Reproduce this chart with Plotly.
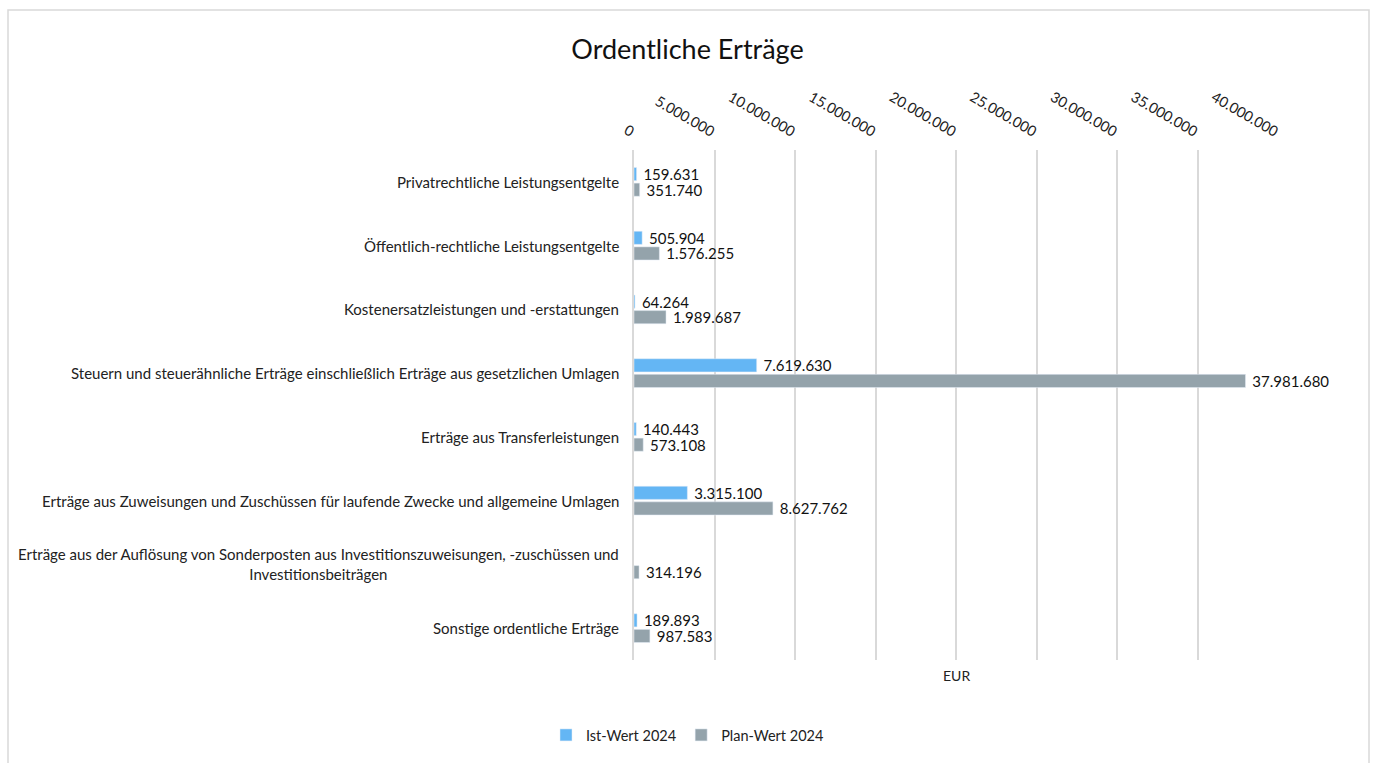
import plotly.graph_objects as go

categories = [
    "Privatrechtliche Leistungsentgelte",
    "Öffentlich-rechtliche Leistungsentgelte",
    "Kostenersatzleistungen und -erstattungen",
    "Steuern und steuerähnliche Erträge einschließlich Erträge aus gesetzlichen Umlagen",
    "Erträge aus Transferleistungen",
    "Erträge aus Zuweisungen und Zuschüssen für laufende Zwecke und allgemeine Umlagen",
    "Erträge aus der Auflösung von Sonderposten aus Investitionszuweisungen, -zuschüssen und<br>Investitionsbeiträgen",
    "Sonstige ordentliche Erträge",
]
ist_2024 = [159631, 505904, 64264, 7619630, 140443, 3315100, None, 189893]
plan_2024 = [351740, 1576255, 1989687, 37981680, 573108, 8627762, 314196, 987583]
tick_vals = [0, 5000000, 10000000, 15000000, 20000000, 25000000, 30000000, 35000000, 40000000]
tick_text = ["0", "5.000.000", "10.000.000", "15.000.000", "20.000.000",
             "25.000.000", "30.000.000", "35.000.000", "40.000.000"]


def fmt(v):
    if v is None:
        return ""
    return " " + f"{v:,}".replace(",", ".")


FONT = "Lato"
W, H = 1375, 763
L, R, T, B = 634, 97, 150, 103
pw, ph = W - L - R, H - T - B

fig = go.Figure()
fig.add_trace(go.Bar(
    name="Ist-Wert 2024", y=categories, x=ist_2024, orientation="h",
    marker=dict(color="#64B6F4"),
    text=[fmt(v) for v in ist_2024], textposition="outside", constraintext="none",
    textfont=dict(family=FONT, size=15, color="#111111"), cliponaxis=False,
))
fig.add_trace(go.Bar(
    name="Plan-Wert 2024", y=categories, x=plan_2024, orientation="h",
    marker=dict(color="#94A3AB"),
    text=[fmt(v) for v in plan_2024], textposition="outside", constraintext="none",
    textfont=dict(family=FONT, size=15, color="#111111"), cliponaxis=False,
))

annotations = []
for c in categories:
    annotations.append(dict(
        x=0, xref="paper", y=c, yref="y", text=c, showarrow=False,
        xanchor="right", yanchor="middle", align="center", xshift=-13,
        font=dict(family=FONT, size=15, color="#222222"),
    ))
annotations.append(dict(
    x=0.5, xref="paper", y=-15 / ph, yref="paper", text="EUR", showarrow=False,
    xanchor="center", yanchor="middle", font=dict(family=FONT, size=14, color="#222222"),
))

fig.update_layout(
    width=W, height=H,
    margin=dict(l=L, r=R, t=T, b=B),
    paper_bgcolor="white", plot_bgcolor="white",
    barmode="group", bargap=0.51, bargroupgap=0.16,
    title=dict(text="Ordentliche Erträge", x=0.5, xref="container", xanchor="center",
               y=1 - 50 / H, yref="container", yanchor="middle",
               font=dict(family=FONT, size=27, color="#111111")),
    xaxis=dict(side="top", range=[0, 40000000], tickvals=tick_vals, ticktext=tick_text,
               tickangle=30, showgrid=True, gridcolor="#D9D9D9", gridwidth=2,
               zeroline=False, showline=False, ticks="", ticklabelstandoff=8,
               tickfont=dict(family=FONT, size=14.5, color="#222222")),
    yaxis=dict(autorange="reversed", showticklabels=False, showgrid=False,
               showline=True, linecolor="#D9D9D9", linewidth=2, ticks=""),
    legend=dict(orientation="h", x=(W / 2 - L) / pw, xanchor="center",
                y=-(735 - (T + ph)) / ph, yanchor="middle", itemwidth=30,
                font=dict(family=FONT, size=14.5, color="#222222"),
                traceorder="normal"),
    annotations=annotations,
    shapes=[dict(type="rect", xref="paper", yref="paper",
                 x0=(8 - L) / pw, x1=(1369 - L) / pw,
                 y0=-(H + 5 - (T + ph)) / ph, y1=1 + (T - 10) / ph,
                 line=dict(color="#D9D9D9", width=1.5), layer="below")],
)

fig.write_html("out.html")
